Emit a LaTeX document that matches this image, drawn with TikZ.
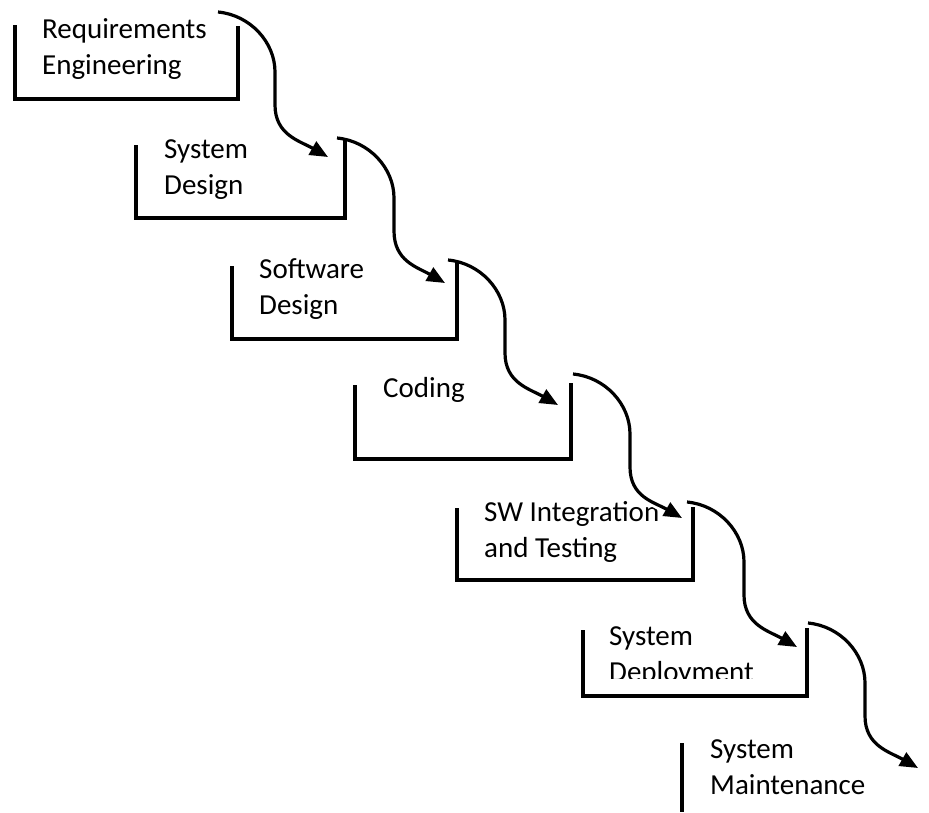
\documentclass[tikz,border=0pt]{standalone}
\usepackage{fontspec}
\setmainfont{Carlito}
\usetikzlibrary{arrows.meta}
\begin{document}
\begin{tikzpicture}[x=1pt,y=-1pt,
  stage/.style={line width=3.2pt, line cap=butt, line join=miter},
  phase/.style={anchor=base west, inner sep=0pt, align=left,
                font=\fontsize{29}{36}\selectfont},
  flow/.style={line width=3.2pt, -{Triangle[length=18pt,width=15pt]}},
  halo/.style={line width=8pt, white}]
\useasboundingbox (0,0) rectangle (929,812);

% stage names (anchored on the baseline of the last line)
\node[phase] (t1) at (42,74)   {Requirements\\Engineering};
\node[phase] (t2) at (164,194) {System\\Design};
\node[phase] (t3) at (259,314) {Software\\Design};
\node[phase] (t4) at (383,397) {Coding};
\node[phase] (t5) at (484,557) {SW Integration\\and Testing};
\begin{scope}
  \clip (570,600) rectangle (800,678);
  \node[phase] (t6) at (609,681) {System\\Deployment};
\end{scope}
\node[phase] (t7) at (710,794) {System\\Maintenance};

% end points of the cascading arrows
\coordinate (s1) at (218,12);  \coordinate (e1) at (328,157);
\coordinate (s2) at (337,138); \coordinate (e2) at (445,283);
\coordinate (s3) at (448,260); \coordinate (e3) at (558,405);
\coordinate (s4) at (573,374); \coordinate (e4) at (682,518);
\coordinate (s5) at (687,502); \coordinate (e5) at (797,647);
\coordinate (s6) at (808,623); \coordinate (e6) at (918,768);

% white outline under each arrow, so it stands clear of the text
\foreach \i in {1,...,6}{
  \draw[halo] (s\i) .. controls +(32,3) and +(0,-30) .. ([shift={(57,60)}]s\i)
              -- ([shift={(57,93)}]s\i)
              .. controls +(0,30) and +(-22,-13) .. ([shift={(-6,-3)}]e\i);
}

% open-topped stage boxes: left edge, bottom, right edge
\draw[stage] (15,25)  |- (238,99)  -- (238,26);
\draw[stage] (136,145) |- (345,218) -- (345,140);
\draw[stage] (232,266) |- (457,339) -- (457,263);
\draw[stage] (355,385) |- (571,459) -- (571,383);
\draw[stage] (457,508) |- (693,580) -- (693,507);
\draw[stage] (583,630) |- (807,696) -- (807,628);
\draw[stage] (682,743) -- (682,812);

% cascading arrows from stage to stage
\foreach \i in {1,...,6}{
  \draw[flow] (s\i) .. controls +(32,3) and +(0,-30) .. ([shift={(57,60)}]s\i)
              -- ([shift={(57,93)}]s\i)
              .. controls +(0,30) and +(-28,-16) .. (e\i);
}
\end{tikzpicture}
\end{document}
